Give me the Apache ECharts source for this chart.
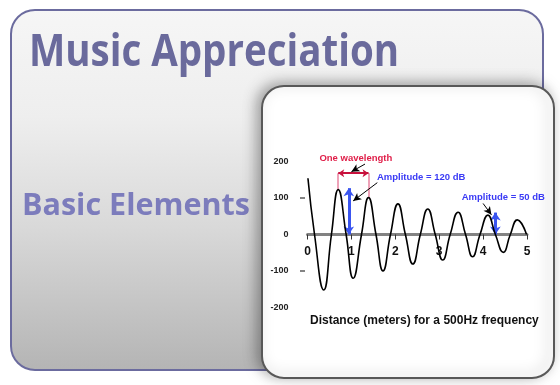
<!DOCTYPE html>
<html><head><meta charset="utf-8">
<script src="https://cdn.jsdelivr.net/npm/echarts@6/dist/echarts.min.js"></script>
<style>html,body{margin:0;padding:0;background:#fff}#c{width:560px;height:385px}</style>
</head><body><div id="c"></div>
<script>
// ---- data ----
const xTickLabels = ['0', '1', '2', '3', '4', '5'];
const yTickLabels = ['-200', '-100', '0', '100', '200'];
const yTickMarks = [100, -100];
const waveX = [0.01, 0.16, 0.37, 0.545, 0.70, 0.88, 1.04, 1.23, 1.39, 1.56, 1.72, 1.89, 2.06, 2.23, 2.40, 2.57, 2.74, 2.91, 3.08, 3.25, 3.43, 3.60, 3.76, 3.93, 4.11, 4.28, 4.46, 4.62, 4.78, 4.99];
const waveY = [154, 0, -152, 0, 123, 0, -120, 0, 101, 0, -100, 0, 84, 0, -81, 0, 70, 0, -70, 0, 61, 0, -61, 0, 53, 0, -49, 0, 40, 0];
const wavelengthSpan = [0.70, 1.39];
const wavelengthLevel = 168;
const wavelengthPeaks = [124, 102];
const amplitudeArrowX = [0.94, 4.28];
const amplitudeArrowTop = [127, 60];
const pointerFrom = [[1.31, 193], [1.59, 142], [4.0, 85]];
const pointerTo = [[1.0, 172], [1.04, 92], [4.19, 54]];
const annotationText = ['One wavelength', 'Amplitude = 120 dB', 'Amplitude = 50 dB'];
const annotationPos = [[0.26, 200], [1.57, 157], [3.5, 101]];
const headline = 'Music Appreciation';
const subhead = 'Basic Elements';
const axisTitle = 'Distance (meters) for a 500Hz frequency';

// ---- helpers ----
const mctx = document.createElement('canvas').getContext('2d');
function fitScale(text, font, target) {
  mctx.font = font;
  return target / mctx.measureText(text).width;
}
const headFont = 'bold 44px "Open Sans"';
const subFont = 'bold 30px "Open Sans"';

const chart = echarts.init(document.getElementById('c'), null, {renderer: 'canvas'});
const labelFont = 'Liberation Sans';

const option = {
  animation: false,
  grid: {left: 307.5, right: 33, top: 161.5, bottom: 77.5},
  xAxis: {
    type: 'value', min: 0, max: 5, interval: 1, offset: -73,
    axisLine: {onZero: false, lineStyle: {color: '#828282', width: 3}},
    axisTick: {show: true, length: 5, lineStyle: {color: '#333', width: 1}},
    axisLabel: {margin: 11, fontSize: 12, fontWeight: 'bold', color: '#111', fontFamily: labelFont,
      formatter: v => xTickLabels[Math.round(v)]},
    splitLine: {show: false}
  },
  yAxis: {
    type: 'value', min: -200, max: 200, interval: 100,
    axisLine: {show: false}, axisTick: {show: false}, splitLine: {show: false},
    axisLabel: {margin: 19, fontSize: 9, fontWeight: 'bold', color: '#222', fontFamily: labelFont,
      formatter: v => yTickLabels[Math.round((v + 200) / 100)]}
  },
  graphic: [
    {type: 'rect', z: -10, shape: {x: 11, y: 10, width: 532, height: 360, r: 24},
      style: {fill: new echarts.graphic.LinearGradient(0, 0, 0, 1, [
        {offset: 0, color: '#f6f6f6'}, {offset: 0.3, color: '#eeeeee'},
        {offset: 0.6, color: '#d9d9d9'}, {offset: 1, color: '#b4b4b4'}]),
        stroke: '#6b6b9e', lineWidth: 2}},
    {type: 'text', z: -5, x: 29, y: 53, scaleX: fitScale(headline, headFont, 370),
      style: {text: headline, font: headFont, fill: '#6a6a9c', verticalAlign: 'middle'}},
    {type: 'text', z: -5, x: 22, y: 206, scaleX: fitScale(subhead, subFont, 228),
      style: {text: subhead, font: subFont, fill: '#7c7cbc', verticalAlign: 'middle'}},
    {type: 'rect', z: -4, shape: {x: 262, y: 86, width: 292, height: 292, r: 22},
      style: {fill: '#ffffff', stroke: '#585858', lineWidth: 2,
        shadowBlur: 14, shadowOffsetX: -4, shadowOffsetY: -2, shadowColor: 'rgba(0,0,0,0.35)'}},
    {type: 'text', z: 5, x: 310, y: 321,
      style: {text: axisTitle, font: 'bold 12px "Liberation Sans"', fill: '#111', verticalAlign: 'middle'}}
  ],
  series: [
    {type: 'line', data: waveX.map((x, i) => [x, waveY[i]]), showSymbol: false, smooth: 0.5,
      lineStyle: {color: '#000', width: 1.6}, z: 5, silent: true},
    {type: 'scatter', data: yTickMarks.map(v => [0, v]), symbol: 'rect', symbolSize: [5, 1.5],
      symbolOffset: [-5, 0], itemStyle: {color: '#333'}, silent: true},
    {type: 'line', data: [], clip: false, silent: true,
      markLine: {silent: true, symbol: 'none', label: {show: false},
        lineStyle: {color: '#e883a0', width: 1.5, type: 'solid'},
        data: wavelengthSpan.map((x, i) => [{coord: [x, wavelengthLevel]}, {coord: [x, wavelengthPeaks[i]]}])}},
    {type: 'line', data: [], clip: false, silent: true,
      markLine: {silent: true, symbol: ['arrow', 'arrow'], symbolSize: [6, 6], label: {show: false},
        lineStyle: {color: '#c8103c', width: 2, type: 'solid'},
        data: [[{coord: [wavelengthSpan[0], wavelengthLevel]}, {coord: [wavelengthSpan[1], wavelengthLevel]}]]}},
    {type: 'line', data: [], clip: false, silent: true,
      markLine: {silent: true, symbol: ['arrow', 'arrow'], symbolSize: [8, 8], label: {show: false},
        lineStyle: {color: '#3a55f0', width: 3, type: 'solid'},
        data: amplitudeArrowX.map((x, i) => [{coord: [x, 0]}, {coord: [x, amplitudeArrowTop[i]]}])}},
    {type: 'line', data: [], clip: false, silent: true,
      markLine: {silent: true, symbol: ['none', 'arrow'], symbolSize: [6, 8], label: {show: false},
        lineStyle: {color: '#000', width: 1, type: 'solid'},
        data: pointerFrom.map((p, i) => [{coord: p}, {coord: pointerTo[i]}])}},
    {type: 'line', data: [], clip: false, silent: true,
      markPoint: {silent: true, symbol: 'circle', symbolSize: 1, itemStyle: {color: 'rgba(0,0,0,0)'},
        label: {show: true, formatter: '{b}', position: 'right', distance: 0, fontSize: 9.5,
          fontWeight: 'bold', fontFamily: labelFont, color: '#3a3af5'},
        data: annotationText.map((t, i) => ({name: t, coord: annotationPos[i],
          label: i === 0 ? {color: '#e0204a', offset: [0, -3.5]} : {}}))}}
  ]
};
chart.setOption(option);
</script>
</body></html>
